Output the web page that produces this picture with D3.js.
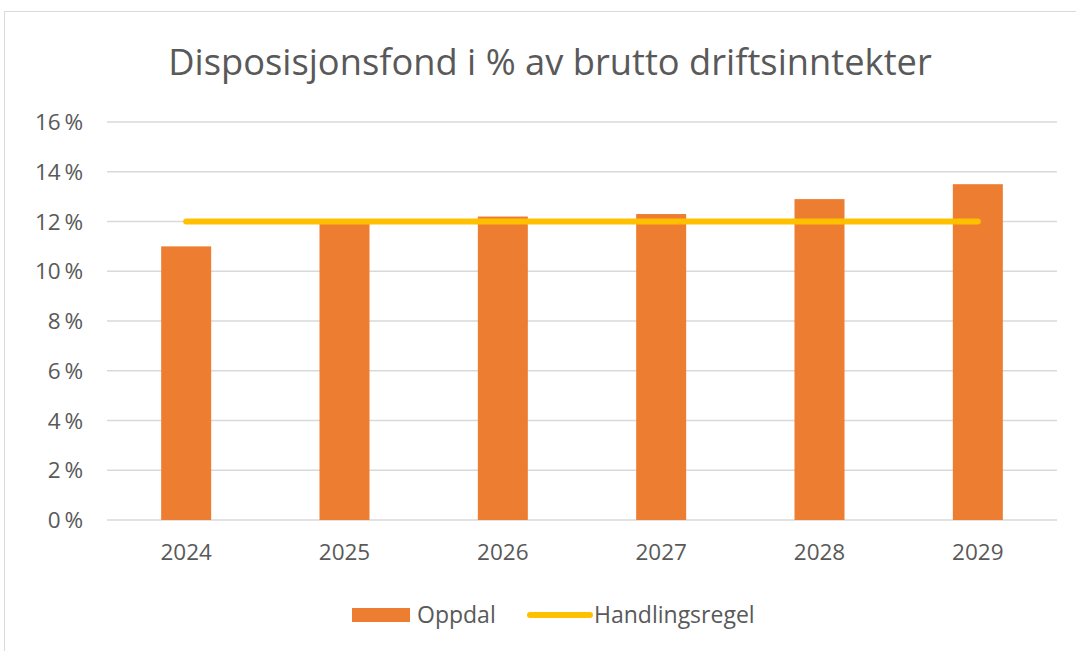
<!DOCTYPE html>
<html>
<head>
<meta charset="utf-8">
<script src="https://cdn.jsdelivr.net/npm/d3@7"></script>
<style>
  body { margin: 0; background: #fff; }
  text { font-family: "Open Sans", sans-serif; fill: #595959; }
</style>
</head>
<body>
<svg id="chart" width="1076" height="651"></svg>
<script>
// data
var years = ['2024', '2025', '2026', '2027', '2028', '2029'];
var oppdal = [11.0, 11.9, 12.2, 12.3, 12.9, 13.5];
var handlingsregel = [12, 12, 12, 12, 12, 12];
var yTicks = [0, 2, 4, 6, 8, 10, 12, 14, 16];

var svg = d3.select('#chart');
var plotLeft = 107, plotRight = 1057, plotTop = 122, plotBottom = 520;

// chart border
svg.append('rect')
    .attr('x', 4.5).attr('y', 11.5)
    .attr('width', 1090).attr('height', 660)
    .attr('fill', 'none').attr('stroke', '#d9d9d9');

// title, fitted to the reference width
var title = svg.append('text')
    .attr('x', 550).attr('y', 75)
    .attr('text-anchor', 'middle')
    .style('font-size', '32px')
    .text('Disposisjonsfond  i % av brutto driftsinntekter');
var tw = title.node().getComputedTextLength();
title.style('font-size', (32 * 764 / tw) + 'px');

var xScale = d3.scaleBand().domain(years).range([plotLeft, plotRight]);
var yScale = d3.scaleLinear().domain([0, 16]).range([plotBottom, plotTop]);

// gridlines
svg.append('g').selectAll('line')
    .data(yTicks)
    .enter().append('line')
    .attr('x1', plotLeft).attr('x2', plotRight)
    .attr('y1', function(d) { return yScale(d); })
    .attr('y2', function(d) { return yScale(d); })
    .attr('stroke', '#d9d9d9').attr('stroke-width', 1.5);

// y labels
svg.append('g').selectAll('text')
    .data(yTicks)
    .enter().append('text')
    .attr('x', 83)
    .attr('y', function(d) { return yScale(d) + 8; })
    .attr('text-anchor', 'end')
    .style('font-size', '22.5px')
    .text(function(d) { return d + '\u2009%'; });

// x labels
svg.append('g').selectAll('text')
    .data(years)
    .enter().append('text')
    .attr('x', function(d) { return xScale(d) + xScale.bandwidth() / 2; })
    .attr('y', 560)
    .attr('text-anchor', 'middle')
    .style('font-size', '22.5px')
    .text(function(d) { return d; });

// bars
var barW = 50;
svg.append('g').selectAll('rect')
    .data(oppdal)
    .enter().append('rect')
    .attr('x', function(d, i) { return xScale(years[i]) + xScale.bandwidth() / 2 - barW / 2; })
    .attr('width', barW)
    .attr('y', function(d) { return yScale(d); })
    .attr('height', function(d) { return plotBottom - yScale(d); })
    .attr('fill', '#ed7d31');

// line
var line = d3.line()
    .x(function(d, i) { return xScale(years[i]) + xScale.bandwidth() / 2; })
    .y(function(d) { return yScale(d); });
svg.append('path')
    .datum(handlingsregel)
    .attr('d', line)
    .attr('fill', 'none')
    .attr('stroke', '#ffc000')
    .attr('stroke-width', 6)
    .attr('stroke-linecap', 'round');

// legend
var legend = svg.append('g');
legend.append('rect')
    .attr('x', 352).attr('y', 608).attr('width', 58).attr('height', 14)
    .attr('fill', '#ed7d31');
legend.append('text')
    .attr('x', 417).attr('y', 623)
    .style('font-size', '23px')
    .text('Oppdal');
legend.append('line')
    .attr('x1', 530).attr('x2', 590).attr('y1', 615).attr('y2', 615)
    .attr('stroke', '#ffc000').attr('stroke-width', 6).attr('stroke-linecap', 'round');
legend.append('text')
    .attr('x', 594).attr('y', 623)
    .style('font-size', '23px')
    .text('Handlingsregel');
</script>
</body>
</html>
